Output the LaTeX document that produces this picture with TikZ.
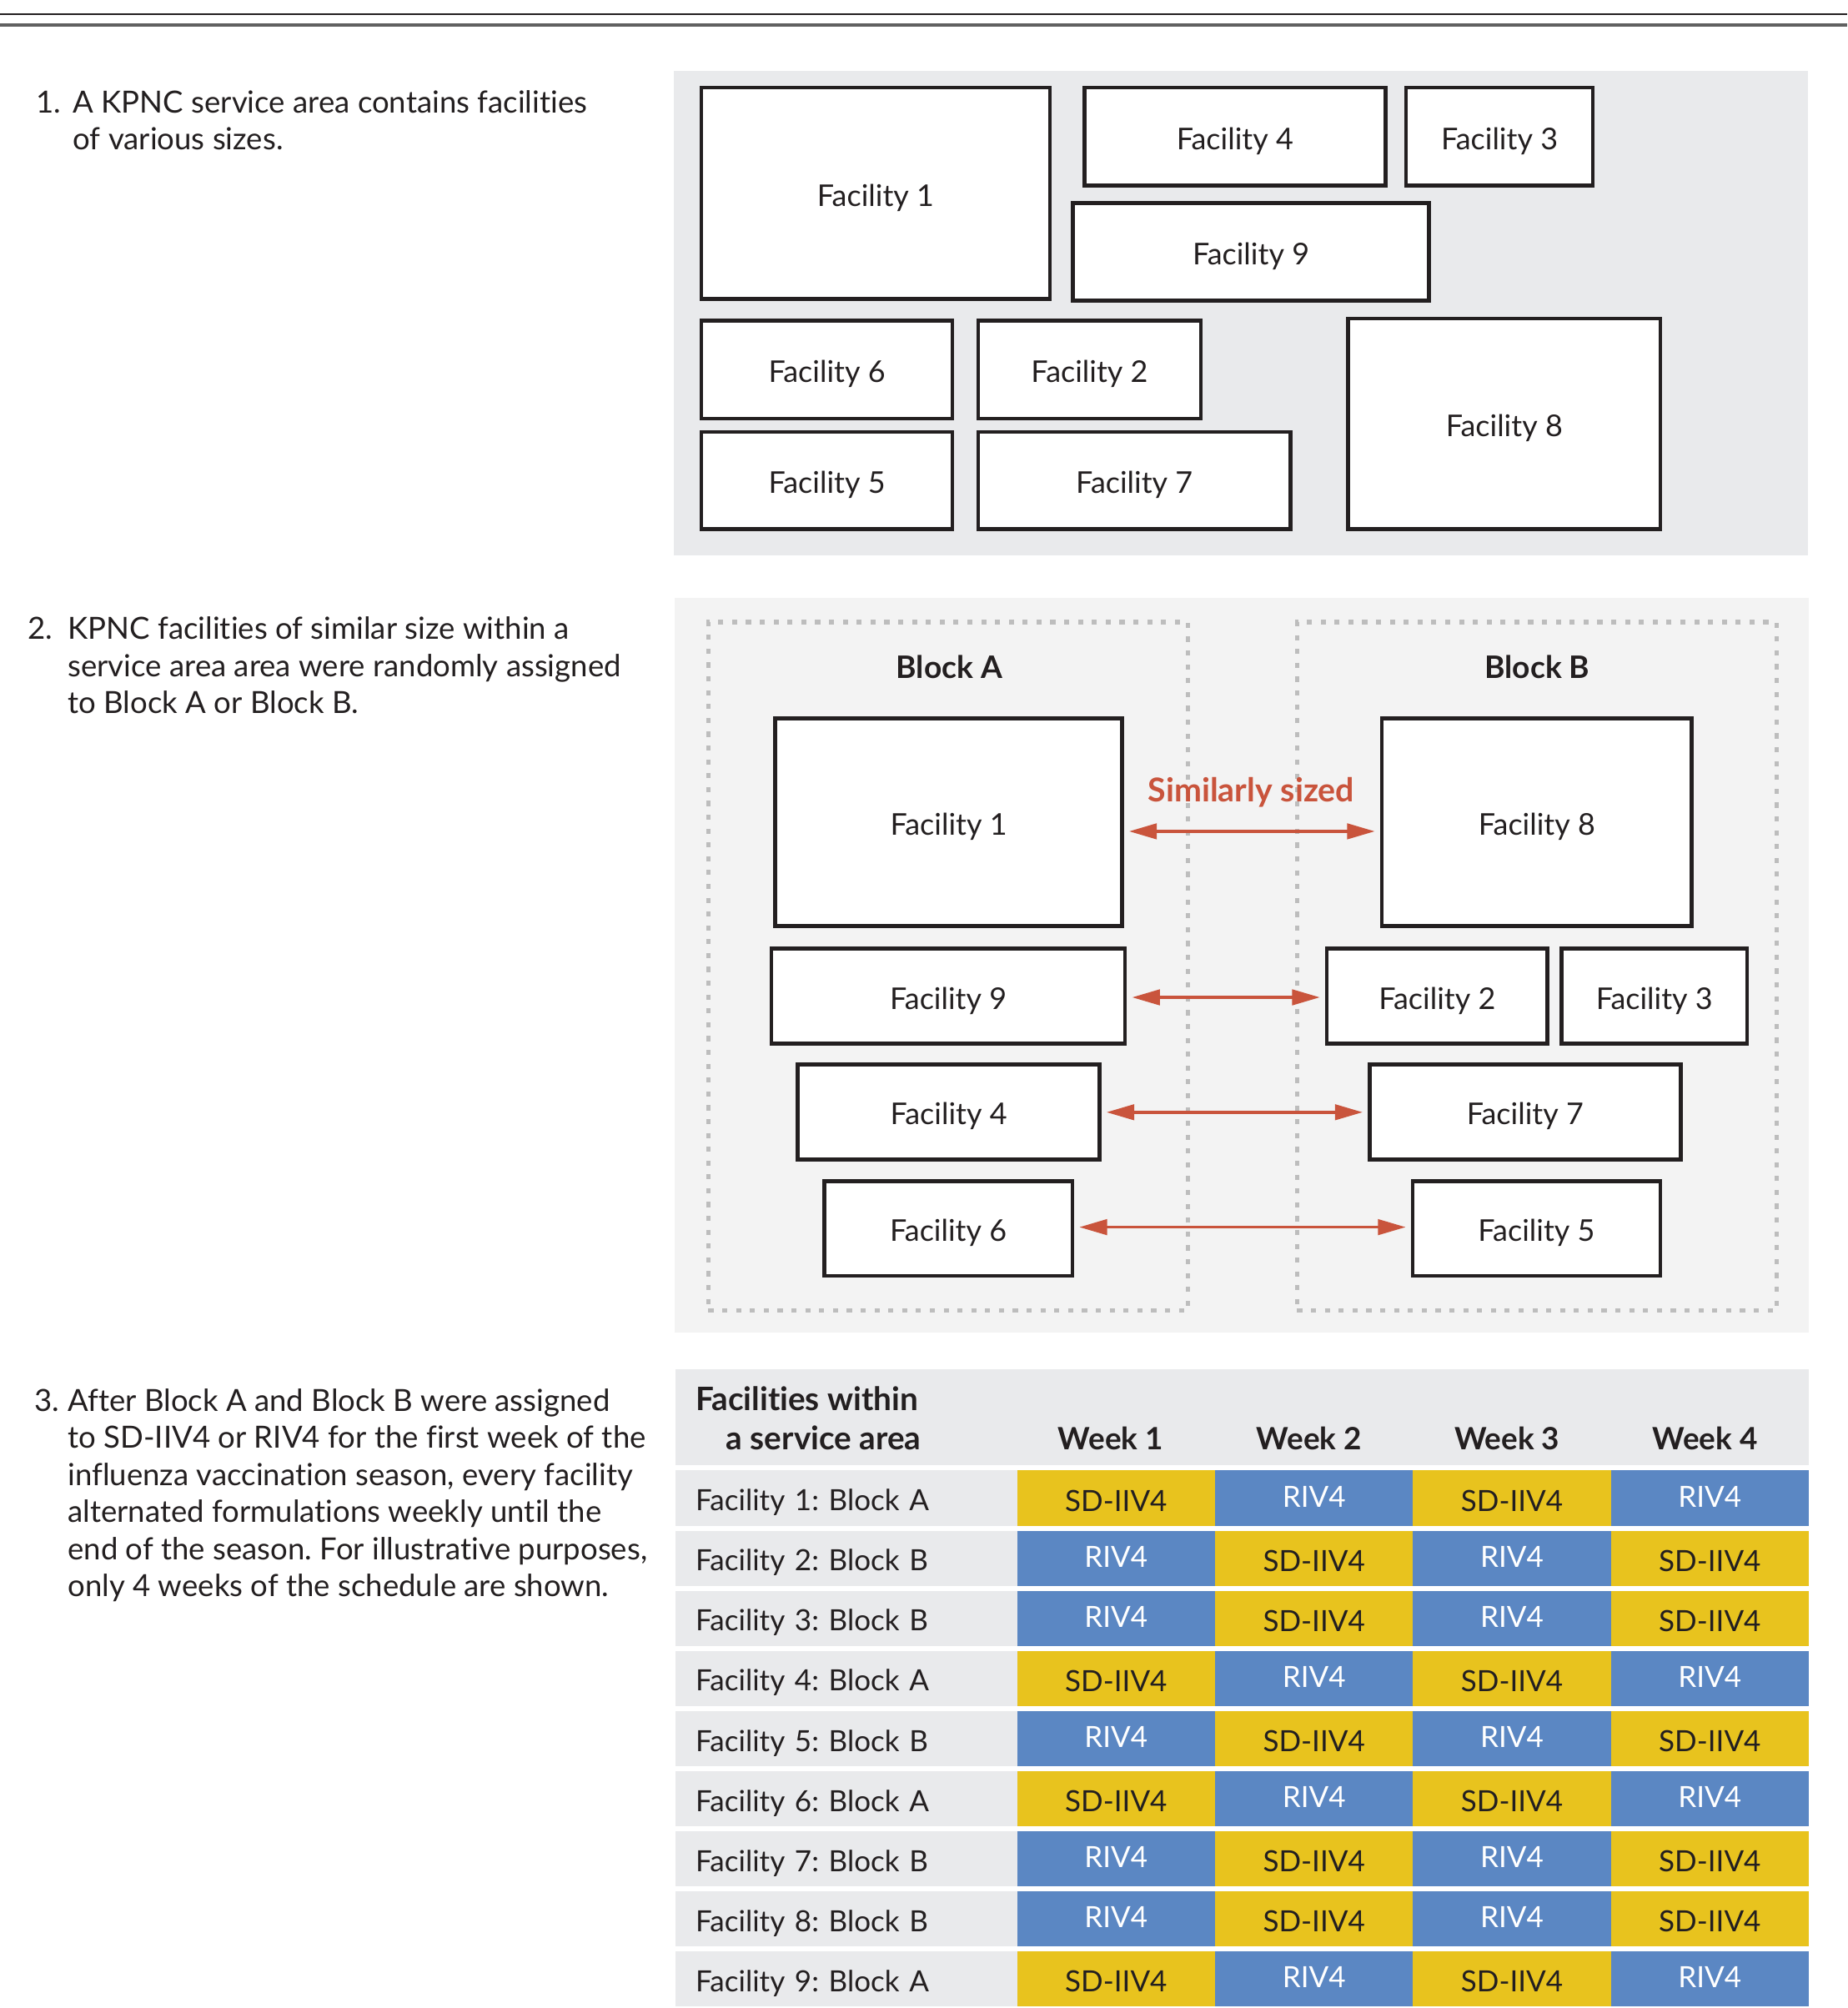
\documentclass[tikz,border=0pt]{standalone}
\usepackage{fontspec}
\setmainfont{Lato}[Ligatures=NoCommon]
\usetikzlibrary{arrows.meta}
\frenchspacing
\definecolor{ink}{HTML}{231F20}
\definecolor{panelgray}{HTML}{E9EAEC}
\definecolor{panellight}{HTML}{F3F3F3}
\definecolor{dashgray}{HTML}{BDBDBD}
\definecolor{sdyellow}{HTML}{E8C31E}
\definecolor{rivblue}{HTML}{5B87C3}
\definecolor{arrowred}{HTML}{C9543C}
\definecolor{rulegray}{HTML}{606060}
\newcommand\figfont{\fontsize{11.4pt}{14.5pt}\selectfont}
\newcommand\bodyfont{\fontsize{11.9pt}{14.5pt}\selectfont}
\newcommand\boxfont{\fontsize{11.7pt}{14.5pt}\selectfont}
\newcommand\fbx[6]{\node[fbox, minimum width={(#4-#2)*0.5pt-1.5pt}, minimum height={(#5-#3)*0.5pt-1.5pt}] (#1) at ({(#2+#4)/2},{(#3+#5)/2}) {#6};}
\begin{document}
\begin{tikzpicture}[x=0.5pt,y=-0.5pt,
 fbox/.style={draw=ink, line width=1.5pt, fill=white, inner sep=0pt, outer sep=0pt, font=\boxfont, text=ink, text height=10pt, text depth=0pt},
 bodytext/.style={font=\bodyfont, text=ink, inner sep=0pt, outer sep=0pt},
 boldtext/.style={font=\fontsize{12.1pt}{14.5pt}\selectfont\bfseries, text=ink, inner sep=0pt, outer sep=0pt},
 hdrtext/.style={font=\fontsize{12.6pt}{14.5pt}\selectfont\bfseries, text=ink, inner sep=0pt, outer sep=0pt},
 weektext/.style={font=\fontsize{12pt}{14.5pt}\selectfont\bfseries, text=ink, inner sep=0pt, outer sep=0pt},
 simtext/.style={font=\fontsize{12.8pt}{14.5pt}\selectfont\bfseries, text=arrowred, inner sep=0pt, outer sep=0pt},
 blockframe/.style={draw=dashgray, line width=1.7pt, dash pattern=on 2pt off 3.4pt, inner sep=0pt, outer sep=0pt},
 sarrow/.style={draw=arrowred, line width=1.1pt, {Triangle[length=10.8pt,width=6pt]}-{Triangle[length=10.8pt,width=6pt]}, shorten >=2.75pt, shorten <=2.75pt},
 labcell/.style={fill=panelgray, inner sep=0pt, inner xsep=8pt, outer sep=0pt, text width=117.5pt, align=left, minimum height=21.5pt, font=\figfont, text=ink, text height=10pt, text depth=0pt, anchor=north west},
 sdcell/.style={fill=sdyellow, inner sep=0pt, outer sep=0pt, minimum width=77.25pt, minimum height=21.5pt, font=\figfont, text=ink, text height=10.5pt, text depth=0pt, anchor=north west},
 rivcell/.style={sdcell, fill=rivblue, text=white, text height=7.2pt},
]
\useasboundingbox[fill=white] (0,0) rectangle (1442,1567.6);
% top rules
\draw[ink, line width=0.9pt] (0,11) -- (1442,11);
\draw[rulegray, line width=1.5pt] (0,19.5) -- (1442,19.5);

% ---------- left texts
\node[bodytext, anchor=base west] (n1) at (28,88) {1.};
\node[bodytext, anchor=base west] (t1a) at (57,88) {A KPNC service area contains facilities};
\node[bodytext, anchor=base west] (t1b) at (57,117) {of various sizes.};

\node[bodytext, anchor=base west] (n2) at (22,499) {2.};
\node[bodytext, anchor=base west] (t2a) at (53,499) {KPNC facilities of similar size within a};
\node[bodytext, anchor=base west] (t2b) at (53,528) {service area area were randomly assigned};
\node[bodytext, anchor=base west] (t2c) at (53,557) {to Block A or Block B.};

\node[bodytext, anchor=base west] (n3) at (27,1101.5) {3.};
\node[bodytext, anchor=base west] (t3a) at (53,1101.5) {After Block A and Block B were assigned};
\node[bodytext, anchor=base west] (t3b) at (53,1130.5) {to SD-IIV4 or RIV4 for the first week of the};
\node[bodytext, anchor=base west] (t3c) at (53,1159.5) {influenza vaccination season, every facility};
\node[bodytext, anchor=base west] (t3d) at (53,1188.5) {alternated formulations weekly until the};
\node[bodytext, anchor=base west] (t3e) at (53,1217.5) {end of the season. For illustrative purposes,};
\node[bodytext, anchor=base west] (t3f) at (53,1246.5) {only 4 weeks of the schedule are shown.};

% ---------- panel 1
\fill[panelgray] (526,55.2) rectangle (1411.5,433.6);
\fbx{pa1}{546}{66.9}{821}{234.8}{Facility 1}
\fbx{pa4}{845}{66.9}{1083}{146.2}{Facility 4}
\fbx{pa3}{1096}{66.9}{1245}{146.2}{Facility 3}
\fbx{pa9}{836}{157}{1117}{236}{Facility 9}
\fbx{pa6}{546}{249}{745}{328.4}{Facility 6}
\fbx{pa2}{762}{249}{939}{328.4}{Facility 2}
\fbx{pa5}{546}{335.7}{745}{414.5}{Facility 5}
\fbx{pa7}{762}{335.7}{1009}{414.5}{Facility 7}
\fbx{pa8}{1051}{247.3}{1297.5}{414.5}{Facility 8}

% ---------- panel 2
\fill[panellight] (526.7,466.8) rectangle (1412,1040);
\node[blockframe, minimum width={(927.4-553)*0.5pt}, minimum height={(1023-485.7)*0.5pt}] (blockA) at ({(553+927.4)/2},{(485.7+1023)/2}) {};
\node[blockframe, minimum width={(1386.9-1012.6)*0.5pt}, minimum height={(1023-485.7)*0.5pt}] (blockB) at ({(1012.6+1386.9)/2},{(485.7+1023)/2}) {};
\node[boldtext, anchor=base] (lblA) at (741,529.4) {Block A};
\node[boldtext, anchor=base] (lblB) at (1200,529.4) {Block B};

\fbx{pb1}{603.7}{559.3}{877.4}{724.4}{Facility 1}
\fbx{pb8}{1077.2}{559.3}{1322.2}{724.4}{Facility 8}
\fbx{pb9}{600.7}{739}{879.8}{816.4}{Facility 9}
\fbx{pb2}{1034.3}{739}{1209.4}{816.4}{Facility 2}
\fbx{pb3}{1217.6}{739}{1365.2}{816.4}{Facility 3}
\fbx{pb4}{621.3}{829.5}{859.8}{906.8}{Facility 4}
\fbx{pb7}{1067.7}{829.5}{1313.4}{906.8}{Facility 7}
\fbx{pb6}{641.9}{920.5}{838.6}{997.6}{Facility 6}
\fbx{pb5}{1101.3}{920.5}{1297.5}{997.6}{Facility 5}

\node[simtext, anchor=base] (simlbl) at (976.7,626) {Similarly sized};
\coordinate (ya) at (0,649);
\coordinate (yb) at (0,778.6);
\coordinate (yc) at (0,868.3);
\coordinate (yd) at (0,958);
\draw[sarrow] (pb1.east |- ya) -- (pb8.west |- ya);
\draw[sarrow] (pb9.east |- yb) -- (pb2.west |- yb);
\draw[sarrow] (pb4.east |- yc) -- (pb7.west |- yc);
\draw[sarrow] (pb6.east |- yd) -- (pb5.west |- yd);

% ---------- panel 3 table
\fill[panelgray] (527,1069) rectangle (1412,1143.6);
\node[hdrtext, anchor=base west] (h1) at (543,1101) {Facilities within};
\node[hdrtext, anchor=base east] (h2) at (719,1132) {a service area};
\node[weektext, anchor=base] (w1) at (867,1132) {Week 1};
\node[weektext, anchor=base] (w2) at (1022,1132) {Week 2};
\node[weektext, anchor=base] (w3) at (1176.5,1132) {Week 3};
\node[weektext, anchor=base] (w4) at (1331,1132) {Week 4};

\foreach \r/\b/\p in {1/A/0,2/B/1,3/B/1,4/A/0,5/B/1,6/A/0,7/B/1,8/B/1,9/A/0} {
  \pgfmathsetmacro\yt{1148+(\r-1)*46.9}
  \node[labcell] (lab\r) at (527,\yt) {Facility \r: Block \b};
  \foreach \c in {1,...,4} {
    \pgfmathsetmacro\xl{794+(\c-1)*154.5}
    \pgfmathtruncatemacro\isd{mod(\c+\p,2)}
    \ifnum\isd=1
      \node[sdcell] (cell\r\c) at (\xl,\yt) {SD-IIV4};
    \else
      \node[rivcell] (cell\r\c) at (\xl,\yt) {RIV4};
    \fi
  }
}
\end{tikzpicture}
\end{document}
